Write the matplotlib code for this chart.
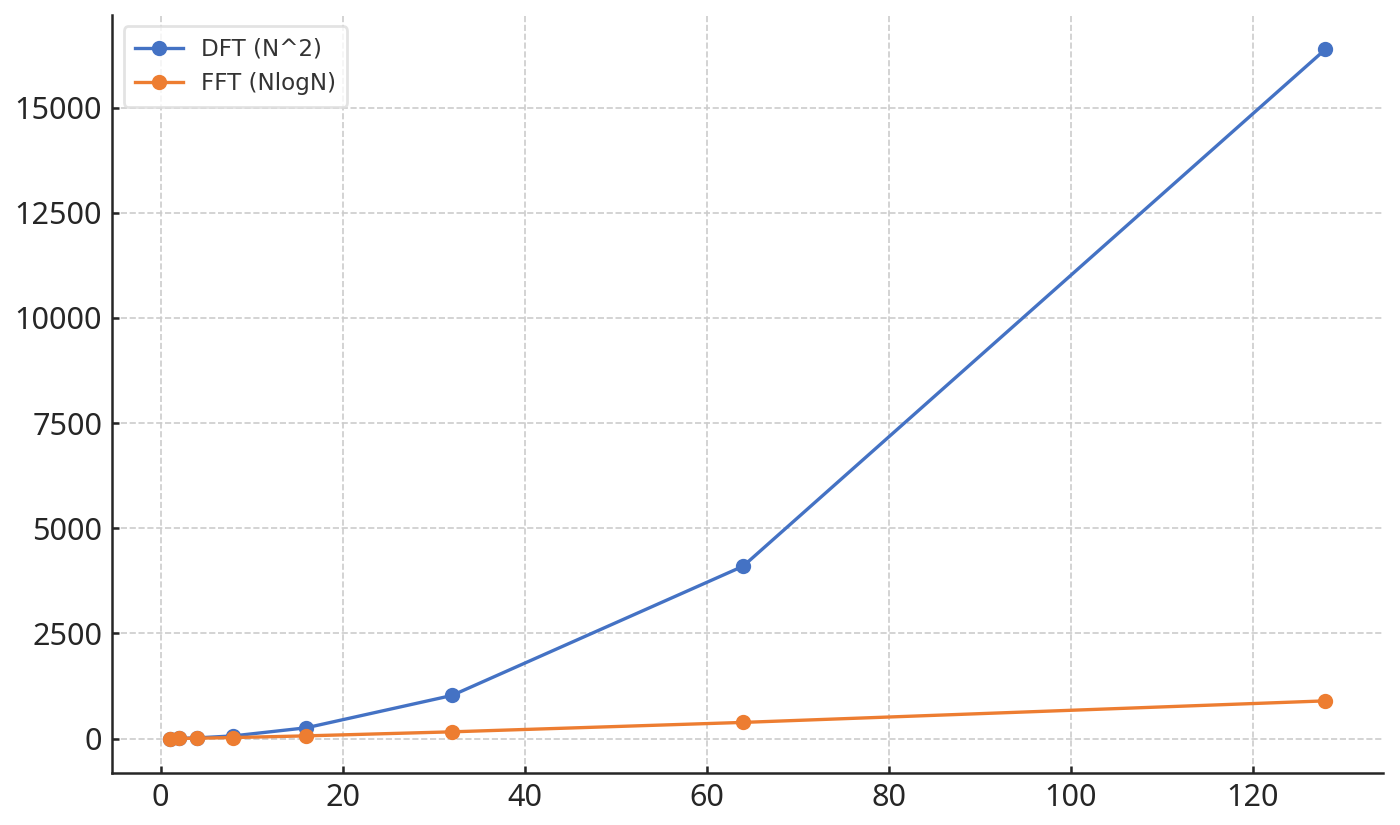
import matplotlib.pyplot as plt

# Data
n_values = [1, 2, 4, 8, 16, 32, 64, 128]
dft_ops = [1, 4, 16, 64, 256, 1024, 4096, 16384]
fft_ops = [0, 2, 8, 24, 64, 160, 384, 896]

plt.rcParams.update({'font.family': ['Noto Sans', 'DejaVu Sans'], 'font.size': 10})

fig, ax = plt.subplots(figsize=(7, 4.125), dpi=200)
fig.subplots_adjust(left=0.08, right=0.988, bottom=0.063, top=0.982)

ax.plot(n_values, dft_ops, 'o-', color='#4472C4', linewidth=1.2, markersize=4.5, label='DFT (N^2)')
ax.plot(n_values, fft_ops, 'o-', color='#ED7D31', linewidth=1.2, markersize=4.5, label='FFT (NlogN)')

ax.grid(True, linestyle='--', color='#cccccc', linewidth=0.6)
ax.spines['top'].set_visible(False)
ax.spines['right'].set_visible(False)
for s in ['left', 'bottom']:
    ax.spines[s].set_color('#262626')
    ax.spines[s].set_linewidth(0.9)
ax.tick_params(direction='in', colors='#262626', labelsize=11, width=0.9, length=2.5, pad=3.5)

leg = ax.legend(loc='upper left', prop={'family': 'DejaVu Sans', 'size': 8.3},
                framealpha=0.8, edgecolor='#dddddd', labelspacing=0.5,
                handlelength=2.1, handletextpad=0.75, borderpad=0.5)
for t in leg.get_texts():
    t.set_color('#333333')

plt.savefig("out.png")
